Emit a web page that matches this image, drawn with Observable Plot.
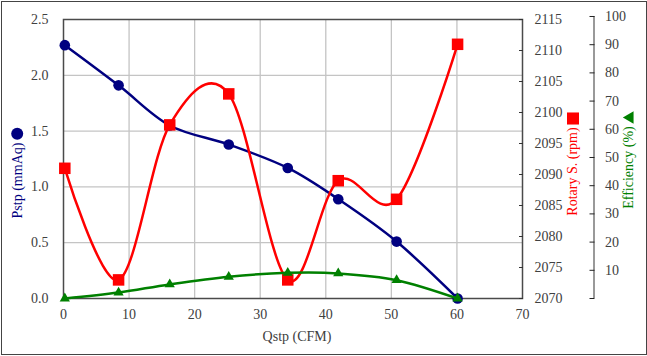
<!DOCTYPE html>
<html>
<head>
<meta charset="utf-8">
<script src="https://cdn.jsdelivr.net/npm/d3@7"></script>
<script src="https://cdn.jsdelivr.net/npm/@observablehq/plot@0.6"></script>
<style>
  body { margin: 0; background: #fff; }
  #chart { position: relative; width: 647px; height: 356px; }
  #chart svg { display: block; }
  #chart::after { content: ""; position: absolute; left: 0.5px; top: 0.5px; width: 646px; height: 354.5px;
    box-sizing: border-box; border: 1.5px solid #444; pointer-events: none; }
</style>
</head>
<body>
<div id="chart"></div>
<script>
// ---- data ----
const qstp = [0.2, 8.4, 16.2, 25.2, 34.2, 41.9, 50.8, 60.1];      // Qstp (CFM)
const pstp = [2.27, 1.91, 1.55, 1.38, 1.17, 0.89, 0.51, 0];       // Pstp (mmAq)
const rpm  = [2091, 2073, 2098, 2103, 2073, 2089, 2086, 2111];    // Rotary S. (rpm)
const eff  = [0, 2.1, 5.0, 7.7, 9.1, 8.9, 6.5, 0];                // Efficiency (%)

const xTicks   = [0, 10, 20, 30, 40, 50, 60, 70];
const pTicks   = [0, 0.5, 1.0, 1.5, 2.0, 2.5];
const rpmTicks = [2070, 2075, 2080, 2085, 2090, 2095, 2100, 2105, 2110, 2115];
const effTicks = [0, 10, 20, 30, 40, 50, 60, 70, 80, 90, 100];

const xDomain = [0, 70];
const pDomain = [0, 2.5];
const rpmDomain = [2070, 2115];
const effDomain = [0, 100];

// secondary axes expressed in primary (Pstp) units
const rpmToY = d3.scaleLinear().domain(rpmDomain).range([0, 2.5]);
const effToY = d3.scaleLinear().domain(effDomain).range([0, 2.527]);

const rows = qstp.map((q, i) => ({ q, p: pstp[i], r: rpmToY(rpm[i]), e: effToY(eff[i]) }));

const NAVY = "#000080", RED = "#ff0000", GREEN = "#008000", INK = "#404040";

const chart = Plot.plot({
  width: 647,
  height: 356,
  marginLeft: 63,
  marginRight: 125,
  marginTop: 19,
  marginBottom: 58,
  style: { fontFamily: "'Liberation Serif', 'Times New Roman', serif", fontSize: "14px", color: INK, background: "#fff", overflow: "visible" },
  x: { domain: xDomain },
  y: { domain: pDomain },
  marks: [
    Plot.gridX(xTicks.slice(1, -1), { stroke: "#c4c4c4", strokeOpacity: 1, strokeWidth: 1.3 }),
    Plot.gridY(pTicks.slice(1, -1), { stroke: "#c4c4c4", strokeOpacity: 1, strokeWidth: 1.3 }),
    Plot.frame({ stroke: "#4a4a4a", strokeWidth: 1.5 }),
    Plot.axisX(xTicks, { tickSize: 0, tickPadding: 11, label: null, fill: INK }),
    Plot.axisY(pTicks, { tickSize: 0, tickPadding: 15, label: null, fill: INK, tickFormat: d => d.toFixed(1) }),
    Plot.axisY(rpmTicks, { y: v => rpmToY(v), anchor: "right", tickSize: -4, tickPadding: 16, label: null, fill: INK, stroke: "#333", tickFormat: v => String(v) }),
    Plot.ruleX([xDomain[1]], { y1: effToY(effDomain[0]), y2: effToY(effDomain[1]), dx: 71.5, stroke: "#999", strokeWidth: 2 }),
    Plot.axisY(effTicks, { y: v => effToY(v), anchor: "right", dx: 71.5, tickSize: -5, tickPadding: 16, label: null, fill: INK, stroke: "#222", tickFormat: v => (v === 0 ? "" : String(v)) }),

    // Pstp series
    Plot.line(rows, { x: "q", y: "p", stroke: NAVY, strokeWidth: 2.5, curve: "cardinal", tension: 0 }),
    Plot.dot(rows, { x: "q", y: "p", r: 5.3, fill: NAVY, stroke: "none" }),
    // Rotary speed series
    Plot.line(rows, { x: "q", y: "r", stroke: RED, strokeWidth: 2.5, curve: "cardinal", tension: 0 }),
    Plot.dot(rows, { x: "q", y: "r", r: 6.5, symbol: "square", fill: RED, stroke: "none" }),
    // Efficiency series
    Plot.line(rows, { x: "q", y: "e", stroke: GREEN, strokeWidth: 2.5, curve: "cardinal", tension: 0 }),
    Plot.dot(rows, { x: "q", y: "e", r: 3.8, symbol: "triangle", fill: GREEN, stroke: "none" }),

    // axis titles with their series markers
    Plot.text(["Qstp (CFM)"], { frameAnchor: "bottom", textAnchor: "middle", lineAnchor: "middle", dx: 4, dy: 38.5, fill: INK, fontSize: 14 }),
    Plot.text(["Pstp (mmAq)"], { frameAnchor: "left", textAnchor: "middle", lineAnchor: "middle", rotate: -90, dx: -46, dy: 21.5, fill: NAVY, fontSize: 14 }),
    Plot.dot([0], { frameAnchor: "left", dx: -46.3, dy: -25.3, r: 6, fill: NAVY, stroke: "none" }),
    Plot.text(["Rotary S. (rpm)"], { frameAnchor: "right", textAnchor: "middle", lineAnchor: "middle", rotate: -90, dx: 50, dy: 12.5, fill: RED, fontSize: 14 }),
    Plot.dot([0], { frameAnchor: "right", dx: 50.5, dy: -40.5, r: 6.8, symbol: "square", fill: RED, stroke: "none" }),
    Plot.text(["Efficiency (%)"], { frameAnchor: "right", textAnchor: "middle", lineAnchor: "middle", rotate: -90, dx: 106, dy: 8.5, fill: GREEN, fontSize: 14 }),
    Plot.dot([0], { frameAnchor: "right", dx: 107.5, dy: -41.5, r: 4.6, symbol: "triangle", rotate: -90, fill: GREEN, stroke: "none" })
  ]
});

document.getElementById("chart").appendChild(chart);
</script>
</body>
</html>
